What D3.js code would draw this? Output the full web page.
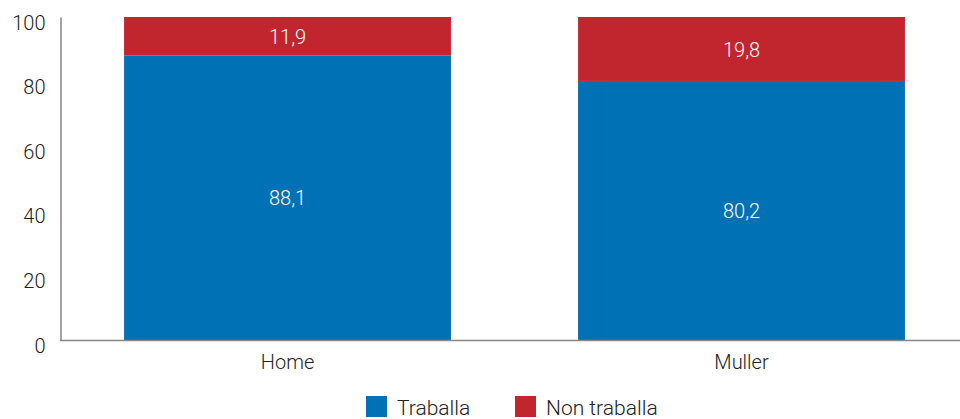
<!DOCTYPE html>
<html><head><meta charset="utf-8">
<script src="https://cdn.jsdelivr.net/npm/d3@7"></script>
<style>body{margin:0;background:#fff}svg{display:block}text{font-family:Roboto,"Open Sans",sans-serif}</style>
</head><body><svg id="c" width="960" height="419"></svg>
<script>
const categories = ["Home", "Muller"];
const traballa = [88.1, 80.2];
const nonTraballa = [11.9, 19.8];
const seriesNames = ["Traballa", "Non traballa"];
const colors = ["#0071b5", "#c1262f"];
const yTicks = [0, 20, 40, 60, 80, 100];

const svg = d3.select("#c");
const x = d3.scaleBand().domain(categories).range([60.5, 968.5]).paddingInner(0.28).paddingOuter(0.14);
const y = d3.scaleLinear().domain([0, 100]).range([340, 17]);

const rows = categories.map((c, i) => ({cat: c, Traballa: traballa[i], "Non traballa": nonTraballa[i]}));
const stack = d3.stack().keys(seriesNames)(rows);
const values = [traballa, nonTraballa];

const fmt = v => v.toFixed(1).replace(".", ",");

stack.forEach((s, si) => {
  svg.append("g").selectAll("rect").data(s).join("rect")
    .attr("x", d => x(d.data.cat)).attr("width", x.bandwidth())
    .attr("y", d => y(d[1])).attr("height", d => y(d[0]) - y(d[1]))
    .attr("fill", colors[si]);
  svg.append("g").selectAll("text").data(s).join("text")
    .attr("x", d => x(d.data.cat) + x.bandwidth() / 2)
    .attr("y", d => (y(d[0]) + y(d[1])) / 2)
    .attr("dy", "0.38em").attr("text-anchor", "middle")
    .attr("fill", "#fff").attr("font-size", 20).attr("font-weight", 300)
    .text((d, i) => fmt(values[si][i]));
});

// y axis
const ya = svg.append("g").attr("transform", "translate(60.5,0)")
  .call(d3.axisLeft(y).tickValues(yTicks).tickSize(0).tickPadding(15));
ya.select(".domain").attr("stroke", "#666").attr("stroke-width", 1.2);
ya.selectAll("text").attr("font-size", 20).attr("font-weight", 300).attr("fill", "#222")
  .attr("font-family", "Roboto,'Open Sans',sans-serif").attr("dy", "0.6em");

// x axis
const xa = svg.append("g").attr("transform", "translate(0,340.5)")
  .call(d3.axisBottom(x).tickSize(0).tickPadding(14));
xa.select(".domain").attr("d", "M60,0H960").attr("stroke", "#888").attr("stroke-width", 1.5);
xa.selectAll("text").attr("font-size", 20).attr("font-weight", 300).attr("fill", "#222")
  .attr("font-family", "Roboto,'Open Sans',sans-serif");

// legend
const legX = [366, 515];
const lg = svg.append("g").selectAll("g").data(seriesNames).join("g")
  .attr("transform", (d, i) => `translate(${legX[i]},396)`);
lg.append("rect").attr("width", 21).attr("height", 21).attr("fill", (d, i) => colors[i]);
lg.append("text").attr("x", 31).attr("y", 19).attr("font-size", 21).attr("font-weight", 300)
  .attr("fill", "#222").text(d => d);
</script></body></html>
